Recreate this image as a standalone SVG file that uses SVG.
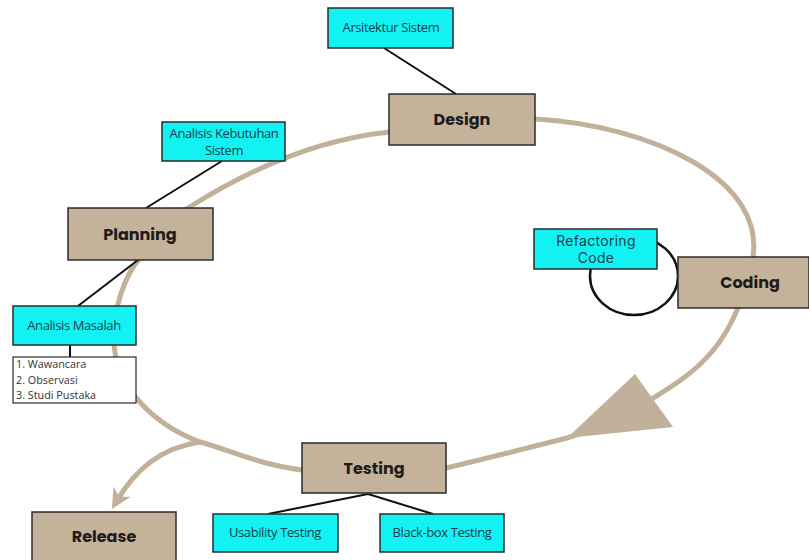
<svg xmlns="http://www.w3.org/2000/svg" width="809" height="560" viewBox="0 0 809 560">
  <defs>
    <style>
      .phase rect { fill: #C5B29A; stroke: #2b2b2b; stroke-width: 1.5; }
      .phase text { font-family: "Poppins", "Inter", "Noto Sans", sans-serif; font-weight: 700; font-size: 16px; fill: #1c1c1c; text-anchor: middle; }
      .note rect { fill: #12F2F2; stroke: #2b2b2b; stroke-width: 1.5; }
      .note text { font-family: "Open Sans", "Liberation Sans", sans-serif; font-size: 13px; fill: #1d3d4f; text-anchor: middle; letter-spacing: -0.4px; }
      .note text.round { font-family: "Inter", "Noto Sans", sans-serif; font-size: 14px; letter-spacing: 0.3px; }
      .list rect { fill: #ffffff; stroke: #2b2b2b; stroke-width: 1.2; }
      .list text { font-family: "Open Sans", "Liberation Sans", sans-serif; font-size: 10.8px; fill: #333; }
      .cycle { fill: none; stroke: #C2B19A; stroke-width: 5; stroke-linecap: round; }
      .link { fill: none; stroke: #111; stroke-width: 2; }
    </style>
    <marker id="tip" viewBox="0 0 10 10" refX="6" refY="5" markerWidth="4" markerHeight="4" orient="auto" markerUnits="strokeWidth">
      <path d="M0,0 L10,5 L0,10 L3,5 z" fill="#C2B19A"/>
    </marker>
  </defs>

  <g id="connectors">
    <!-- main development cycle -->
    <path class="cycle" d="M535 119 C650 125 770 180 752 262 S700 370 650 400 Q600 428 567 438 Q500 455 446 468"/>
    <path class="cycle" d="M302 470 C260 465 230 450 200 442 C155 425 118 390 114 345 C112 310 125 275 140 258 C150 235 170 215 188 208 C240 175 310 140 390 132"/>
    <polygon points="635,374 673,427 567,438" fill="#C2B19A"/>
    <!-- branch out to release -->
    <path class="cycle" d="M200 442 C160 448 135 470 116 502" marker-end="url(#tip)"/>
    <!-- refactoring loop -->
    <ellipse cx="634" cy="276" rx="44" ry="39" fill="none" stroke="#111" stroke-width="2.5"/>
    <!-- note links -->
    <line class="link" x1="384" y1="48" x2="456" y2="94"/>
    <line class="link" x1="222" y1="161" x2="146" y2="208"/>
    <line class="link" x1="138" y1="260" x2="78" y2="306"/>
    <line class="link" x1="70" y1="345" x2="70" y2="357"/>
    <line class="link" x1="268" y1="514" x2="368" y2="494"/>
    <line class="link" x1="368" y1="494" x2="433" y2="514"/>
  </g>

  <g id="design" class="phase">
    <rect x="389" y="94" width="146" height="51"/>
    <text x="462" y="125">Design</text>
  </g>
  <g id="planning" class="phase">
    <rect x="68" y="208" width="145" height="52"/>
    <text x="140" y="240">Planning</text>
  </g>
  <g id="coding" class="phase">
    <rect x="678" y="257" width="131" height="51"/>
    <text x="750" y="288">Coding</text>
  </g>
  <g id="testing" class="phase">
    <rect x="302" y="443" width="144" height="50"/>
    <text x="374" y="474">Testing</text>
  </g>
  <g id="release" class="phase">
    <rect x="32" y="512" width="144" height="52"/>
    <text x="104" y="542">Release</text>
  </g>

  <g id="arsitektur" class="note">
    <rect x="328" y="8" width="125" height="40"/>
    <text x="391" y="32">Arsitektur Sistem</text>
  </g>
  <g id="kebutuhan" class="note">
    <rect x="162" y="122" width="123" height="39"/>
    <text x="224" y="138">Analisis Kebutuhan</text>
    <text x="224" y="155">Sistem</text>
  </g>
  <g id="refactoring" class="note">
    <rect x="534" y="229" width="123" height="40"/>
    <text class="round" x="596" y="246">Refactoring</text>
    <text class="round" x="596" y="263">Code</text>
  </g>
  <g id="masalah" class="note">
    <rect x="13" y="306" width="123" height="39"/>
    <text x="74" y="330">Analisis Masalah</text>
  </g>
  <g id="metode" class="list">
    <rect x="13" y="357" width="123" height="46"/>
    <text x="16" y="368">1. Wawancara</text>
    <text x="16" y="384">2. Observasi</text>
    <text x="16" y="399">3. Studi Pustaka</text>
  </g>
  <g id="usability" class="note">
    <rect x="213" y="514" width="125" height="38"/>
    <text x="275" y="537">Usability Testing</text>
  </g>
  <g id="blackbox" class="note">
    <rect x="380" y="514" width="124" height="38"/>
    <text x="442" y="537">Black-box Testing</text>
  </g>
</svg>
